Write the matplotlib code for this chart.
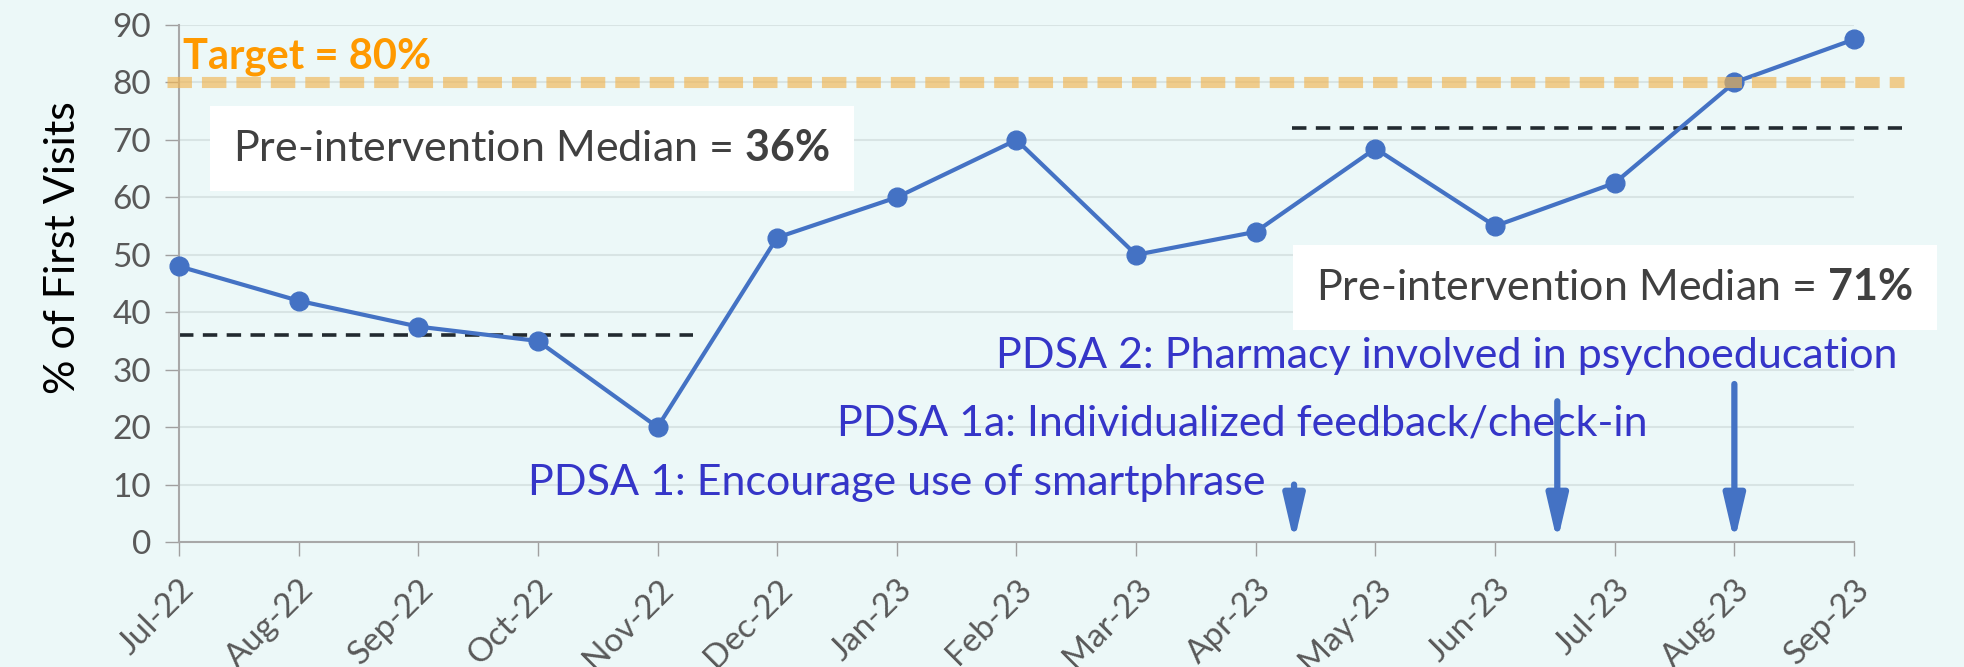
import matplotlib.pyplot as plt
import numpy as np

months = ['Jul-22', 'Aug-22', 'Sep-22', 'Oct-22', 'Nov-22', 'Dec-22', 'Jan-23', 'Feb-23',
          'Mar-23', 'Apr-23', 'May-23', 'Jun-23', 'Jul-23', 'Aug-23', 'Sep-23']
pct_first = [48, 42, 37.5, 35, 20, 53, 60, 70, 50, 54, 68.5, 55, 62.5, 80, 87.5]

target = 80
median1 = 36
median2 = 72
median1_span = (0, 4.3)
median2_span = (9.3, 14.4)

# (x position, arrow start height) for each PDSA
pdsa_arrows = [(9.32, 10), (11.52, 24.5), (13.0, 27.5)]
pdsa_labels = ['PDSA 1: Encourage use of smartphrase',
               'PDSA 1a: Individualized feedback/check-in',
               'PDSA 2: Pharmacy involved in psychoeducation']

bg = '#ECF8F8'
blue = '#4472C4'
grey = '#595959'
violet = '#3535C8'

plt.rcParams['font.family'] = ['Lato', 'DejaVu Sans']
plt.rcParams['mathtext.fontset'] = 'custom'
plt.rcParams['mathtext.rm'] = 'Lato'
plt.rcParams['mathtext.bf'] = 'Lato:bold'

fig = plt.figure(figsize=(19.64, 6.67), dpi=100, facecolor=bg)
ax = fig.add_axes([0.0911, 0.1874, 0.8529, 0.7751])
ax.set_facecolor(bg)

x = np.arange(len(months))
ax.plot(x, pct_first, color=blue, lw=3, marker='o', ms=13.5, zorder=3, clip_on=False)

# target line sits on top, semi transparent
ax.plot([-0.1, 14.42], [target, target], ls=(0, (2.2, 0.9)), lw=8, color='#F2B552',
        alpha=0.65, zorder=4, clip_on=False, solid_capstyle='butt', dash_capstyle='butt')
ax.text(0.03, 84.5, 'Target = 80%', color='#FF9900', fontweight='bold', fontsize=30,
        va='center', ha='left')

ax.plot(median1_span, [median1, median1], ls=(0, (4, 2.6)), lw=2.6, color='#222A30', zorder=2)
ax.plot(median2_span, [median2, median2], ls=(0, (4, 2.6)), lw=2.6, color='#222A30', zorder=2,
        clip_on=False)

ax.text(2.95, 68.5, 'Pre-intervention Median = $\\mathbf{36\\%}$', fontsize=31, color='#404040',
        ha='center', va='center',
        bbox=dict(facecolor='white', edgecolor='none', boxstyle='square,pad=0.55'), zorder=5)
ax.text(12.0, 44.3, 'Pre-intervention Median = $\\mathbf{71\\%}$', fontsize=31, color='#404040',
        ha='center', va='center', clip_on=False,
        bbox=dict(facecolor='white', edgecolor='none', boxstyle='square,pad=0.55'), zorder=5)

label_pos = [(2.92, 10.3), (5.5, 20.7), (6.83, 32.3)]
for (px, py), lab in zip(label_pos, pdsa_labels):
    ax.text(px, py, lab, color=violet, fontsize=31, ha='left', va='center')

for ax_x, y0 in pdsa_arrows:
    ax.annotate('', xy=(ax_x, 0), xytext=(ax_x, y0),
                arrowprops=dict(arrowstyle='-|>,head_width=0.35,head_length=1.5', lw=4.5,
                                color=blue, shrinkA=0, shrinkB=0, mutation_scale=18), zorder=5)

ax.set_xlim(0, 14)
ax.set_ylim(0, 90)
ax.set_yticks(np.arange(0, 91, 10))
ax.set_xticks(x)
ax.set_xticklabels(months, rotation=45, ha='right', rotation_mode='anchor')
ax.tick_params(axis='both', colors='#A0A0A0', labelcolor=grey, labelsize=24, length=10, width=1)
ax.tick_params(axis='y', pad=10)
ax.tick_params(axis='x', pad=13)
ax.grid(axis='y', color='#D8E4E4', lw=1.5)
ax.set_axisbelow(True)
for s in ['top', 'right']:
    ax.spines[s].set_visible(False)
for s in ['left', 'bottom']:
    ax.spines[s].set_color('#A8A8A8')
    ax.spines[s].set_linewidth(1.5)

ax.set_ylabel('% of First Visits', fontsize=31, color='black')
ax.yaxis.set_label_coords(-0.058, 0.57)

fig.savefig('out.png', dpi=100, facecolor=bg)
